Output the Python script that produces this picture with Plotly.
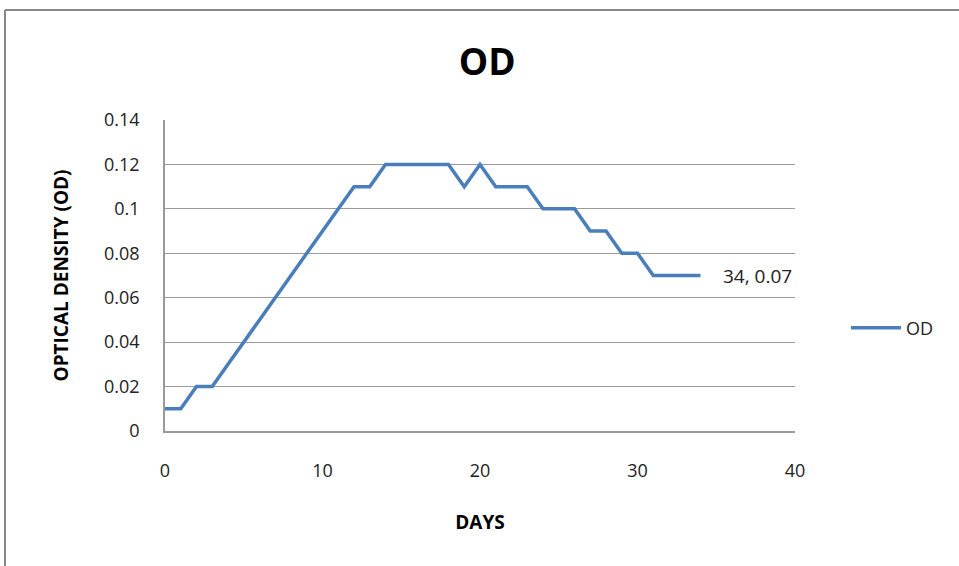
import plotly.graph_objects as go

days = list(range(0, 35))
od = [0.01, 0.01, 0.02, 0.02, 0.03, 0.04, 0.05, 0.06, 0.07, 0.08,
      0.09, 0.10, 0.11, 0.11, 0.12, 0.12, 0.12, 0.12, 0.12, 0.11,
      0.12, 0.11, 0.11, 0.11, 0.10, 0.10, 0.10, 0.09, 0.09, 0.08,
      0.08, 0.07, 0.07, 0.07, 0.07]
x_ticks = [0, 10, 20, 30, 40]
y_ticks = [0, 0.02, 0.04, 0.06, 0.08, 0.1, 0.12, 0.14]
y_tick_text = ["0", "0.02", "0.04", "0.06", "0.08", "0.1", "0.12", "0.14"]

W, H = 959, 566
L, R, T, B = 165, 164, 120, 135
pw, ph = W - L - R, H - T - B

def px(x):
    return (x - L) / pw

def py(y):
    return (H - B - y) / ph

FONT = "Open Sans"
color = "#4A7EBB"

fig = go.Figure()
fig.add_trace(go.Scatter(x=days, y=od, mode="lines", name="OD",
                         line=dict(color=color, width=3.5)))

fig.add_annotation(x=days[-1], y=od[-1], text=f"{days[-1]}, {od[-1]:.2f}",
                   showarrow=False, xanchor="left", xshift=20,
                   font=dict(family=FONT, size=19, color="#222"))

fig.update_layout(
    width=W, height=H,
    margin=dict(l=L, r=R, t=T, b=B),
    paper_bgcolor="white", plot_bgcolor="white",
    title=dict(text="<b>OD</b>", x=px(485), xanchor="center", y=1 - 62 / H, yanchor="middle",
               font=dict(family=FONT, size=37, color="black")),
    showlegend=True,
    legend=dict(x=px(846), y=py(328), xanchor="left", yanchor="middle",
                font=dict(family=FONT, size=18, color="#222"),
                bgcolor="rgba(0,0,0,0)", itemwidth=50),
    xaxis=dict(range=[0, 40], tickvals=x_ticks, showgrid=False, zeroline=False,
               showline=True, linecolor="#999", linewidth=1.5,
               ticks="outside", ticklen=23, tickcolor="rgba(0,0,0,0)",
               tickfont=dict(family=FONT, size=18, color="#222"),
               title=dict(text="<b>DAYS</b>", font=dict(family=FONT, size=19, color="black"),
                          standoff=34)),
    yaxis=dict(range=[0, 0.14], tickvals=y_ticks, ticktext=y_tick_text,
               showgrid=True, gridcolor="#9a9a9a", gridwidth=1, zeroline=False,
               showline=True, linecolor="#999", linewidth=1.5,
               tickfont=dict(family=FONT, size=18, color="#222"),
               ticks="outside", ticklen=20, tickcolor="rgba(0,0,0,0)",
               title=dict(text="<b>OPTICAL DENSITY (OD)</b>",
                          font=dict(family=FONT, size=19, color="black"), standoff=30)),
    shapes=[
        dict(type="line", xref="paper", yref="paper", x0=px(5), x1=px(W + 5), y0=py(10), y1=py(10),
             line=dict(color="#888", width=2)),
        dict(type="line", xref="paper", yref="paper", x0=px(5), x1=px(5), y0=py(10), y1=py(H + 5),
             line=dict(color="#888", width=2)),
    ],
)

fig.write_html("out.html", config={"displayModeBar": False},
               post_script="document.body.style.margin='0';document.body.style.overflow='hidden';")
